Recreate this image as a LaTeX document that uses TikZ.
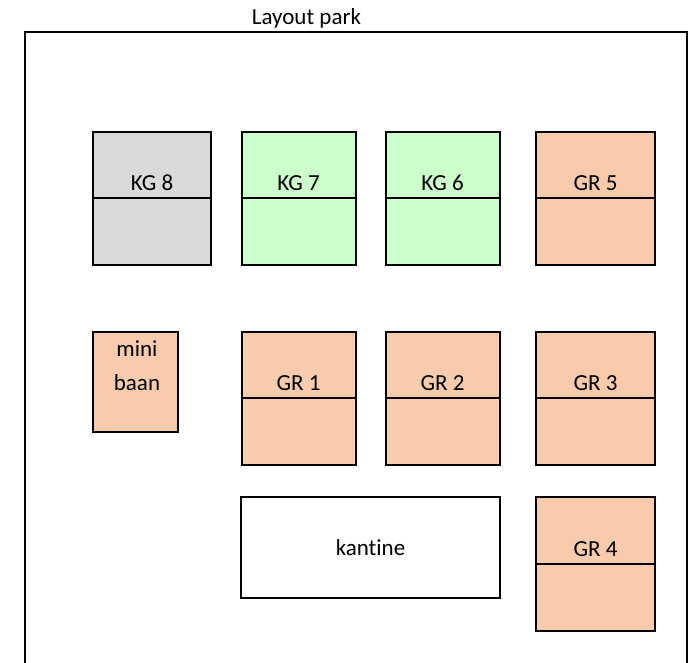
\documentclass[tikz,border=0pt]{standalone}
\usepackage{fontspec}
\setmainfont{Carlito}[Ligatures=NoCommon]
\definecolor{kggray}{HTML}{D9D9D9}
\definecolor{kggreen}{HTML}{CCFFCC}
\definecolor{grpeach}{HTML}{F8CBAD}
\tikzset{
  court/.style={draw=black, line width=2pt, inner sep=0pt, outer sep=0pt},
  lbl/.style={font=\fontsize{23}{27}\selectfont, inner sep=0pt, anchor=base},
  midline/.style={draw=black, line width=2pt},
}
\begin{document}
\begin{tikzpicture}[x=1pt,y=-1pt]
\useasboundingbox (0,0) rectangle (695,662);
\clip (0,0) rectangle (695,662);
% park outline
\coordinate (pbl) at (25,670);
\coordinate (ptl) at (25,31.7);
\coordinate (ptr) at (687,31.7);
\coordinate (pbr) at (687,670);
\draw[line width=2pt] (pbl) -- (ptl) -- (ptr) -- (pbr);
\node[lbl] (title) at (306.5,24.3) {Layout park};
% row 1
\node[court, fill=kggray, minimum width=118pt, minimum height=133pt] (kg8) at (152,198) {};
\node[court, fill=kggreen, minimum width=114pt, minimum height=133pt] (kg7) at (298.5,198) {};
\node[court, fill=kggreen, minimum width=114pt, minimum height=133pt] (kg6) at (442.5,198) {};
\node[court, fill=grpeach, minimum width=119pt, minimum height=133pt] (gr5) at (595.5,198) {};
% row 2
\node[court, fill=grpeach, minimum width=84.4pt, minimum height=100pt] (mini) at (135.5,381.7) {};
\node[court, fill=grpeach, minimum width=114pt, minimum height=133pt] (gr1) at (298.5,398.3) {};
\node[court, fill=grpeach, minimum width=114pt, minimum height=133pt] (gr2) at (442.5,398.3) {};
\node[court, fill=grpeach, minimum width=119pt, minimum height=133pt] (gr3) at (595.5,398.3) {};
% row 3
\node[court, fill=white, minimum width=259pt, minimum height=100.4pt, font=\fontsize{23}{27}\selectfont] (kantine) at (370.5,547.5) {kantine};
\node[court, fill=grpeach, minimum width=119pt, minimum height=134pt] (gr4) at (595.5,564.3) {};
% mid lines
\foreach \n in {kg8,kg7,kg6,gr5,gr1,gr2,gr3,gr4}{
  \draw[midline] (\n.west) -- (\n.east);
}
% labels
\node[lbl] (tkg8) at ([yshift=8pt]kg8.center) {KG 8};
\node[lbl] (tkg7) at ([yshift=8pt]kg7.center) {KG 7};
\node[lbl] (tkg6) at ([yshift=8pt]kg6.center) {KG 6};
\node[lbl] (tgr5) at ([yshift=8pt]gr5.center) {GR 5};
\node[lbl] (tgr1) at ([yshift=8pt]gr1.center) {GR 1};
\node[lbl] (tgr2) at ([yshift=8pt]gr2.center) {GR 2};
\node[lbl] (tgr3) at ([yshift=8pt]gr3.center) {GR 3};
\node[lbl] (tgr4) at ([yshift=8pt]gr4.center) {GR 4};
\node[lbl] (tmini1) at (137,356.7) {mini};
\node[lbl] (tmini2) at (137,390) {baan};
\end{tikzpicture}
\end{document}
